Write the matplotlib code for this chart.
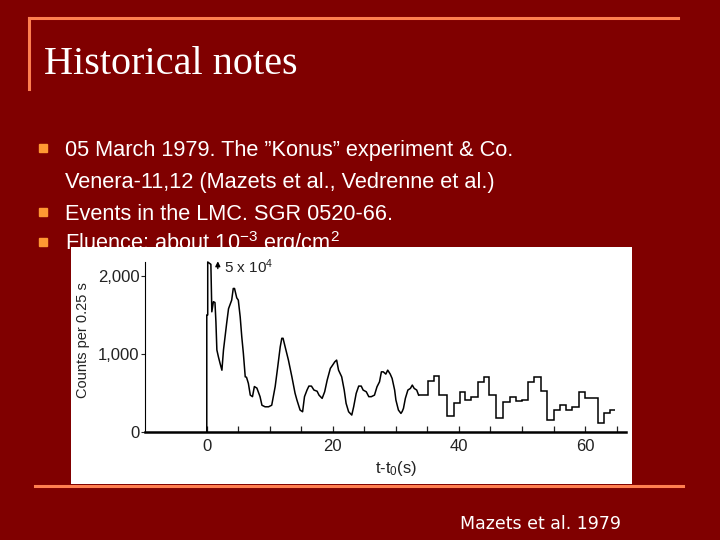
import matplotlib
matplotlib.use("Agg")
import matplotlib.pyplot as plt
from matplotlib.lines import Line2D
from matplotlib.patches import Rectangle
from matplotlib.ticker import FixedLocator

plt.rcParams["mathtext.fontset"] = "custom"
plt.rcParams["mathtext.rm"] = "Liberation Sans"
plt.rcParams["mathtext.it"] = "Liberation Sans"

# Konus light curve, 5 March 1979
# first part: fine time resolution
t_fine = [0, 0, 0.15, 0.15, 0.65, 0.8, 1.05, 1.3, 1.45, 1.6, 1.85, 2.1, 2.4, 2.65,
          3.15, 3.45, 3.95, 4.2, 4.4, 4.75, 5.0, 5.3, 5.55, 5.8, 6.1, 6.3, 6.6, 6.9,
          7.25, 7.55, 7.95, 8.45, 8.75, 9.25, 9.8, 10.3, 10.85, 11.25, 11.65, 11.9,
          12.1, 12.4, 12.95, 13.5, 14.0, 14.3, 14.8, 15.2, 15.5, 15.9, 16.2, 16.6,
          17.0, 17.5, 17.8, 18.3, 18.7, 19.1, 19.6, 20.0, 20.3, 20.6, 20.9, 21.4,
          21.8, 22.1, 22.5, 23.0, 23.3, 23.7, 24.1, 24.5, 24.8, 25.3, 25.7, 26.1,
          26.6, 27.0, 27.4, 27.7, 28.0, 28.4, 28.7, 29.1, 29.4, 29.8, 30.0, 30.4,
          30.8, 31.0, 31.2, 31.5, 31.9, 32.3, 32.6, 32.9, 33.3, 33.6]
counts_fine = [0, 1500, 1500, 2180, 2150, 1540, 1670, 1660, 1410, 1050, 960, 880, 790,
               1050, 1390, 1580, 1690, 1840, 1840, 1720, 1690, 1475, 1220, 1010, 705,
               700, 620, 470, 450, 580, 560, 450, 340, 320, 320, 340, 580, 830, 1090,
               1200, 1200, 1100, 920, 705, 495, 407, 278, 256, 450, 535, 586, 586, 535,
               520, 470, 428, 513, 663, 813, 860, 897, 920, 791, 705, 535, 364, 256,
               214, 320, 492, 586, 586, 535, 513, 450, 450, 470, 577, 641, 769, 769,
               740, 791, 740, 684, 535, 407, 278, 235, 260, 300, 428, 535, 556, 599,
               556, 535, 470]

# second part: coarse bins (step histogram)
step_edges = [33.6, 35.1, 36.0, 36.9, 38.1, 39.2, 40.1, 41.0, 41.9, 43.0, 43.9, 44.8,
              45.9, 47.0, 48.1, 49.0, 50.0, 51.0, 51.9, 53.0, 54.0, 55.1, 56.0, 57.0,
              58.0, 59.0, 60.0, 62.0, 63.0, 63.9, 64.8]
step_counts = [470, 654, 714, 470, 200, 372, 513, 406, 450, 641, 705, 470, 171, 377,
               450, 390, 407, 633, 705, 522, 150, 278, 342, 278, 321, 513, 436, 107,
               235, 278]

bullets = [
    "05 March 1979. The \u201dKonus\u201d experiment & Co.",
    "Events in the LMC. SGR 0520-66.",
    "Fluence: about 10$^{\\mathrm{-3}}$ erg/cm$^{\\mathrm{2}}$",
]
bullet_cont = "Venera-11,12 (Mazets et al., Vedrenne et al.)"

W, H = 720, 540
BG = "#800000"
LINE_C = "#FF7F50"
BULLET_C = "#FF9933"


def fx(x):
    return x / W


def fy(y):
    return 1 - y / H


fig = plt.figure(figsize=(7.2, 5.4), dpi=100, facecolor=BG)

# slide frame lines
fig.add_artist(Line2D([fx(29), fx(678)], [fy(18), fy(18)], color=LINE_C, lw=2.2,
                      transform=fig.transFigure))
fig.add_artist(Line2D([fx(29), fx(29)], [fy(18), fy(89)], color=LINE_C, lw=2.2,
                      transform=fig.transFigure))
fig.add_artist(Line2D([fx(35), fx(683)], [fy(486), fy(486)], color=LINE_C, lw=2.2,
                      transform=fig.transFigure, zorder=7))

fig.text(fx(44), fy(74), "Historical notes", color="white", fontsize=29,
         family="Liberation Serif", va="baseline", ha="left")

# bullets
bullet_y = [148, 212, 242]
for yy, txt in zip(bullet_y, bullets):
    fig.add_artist(Rectangle((fx(39), fy(yy + 4)), 8 / W, 8 / H, color=BULLET_C,
                             transform=fig.transFigure))
    fig.text(fx(65), fy(yy + 8), txt, color="white", fontsize=15.7,
             family="Liberation Sans", va="baseline", ha="left")
fig.text(fx(65), fy(180 + 8), bullet_cont, color="white", fontsize=15.7,
         family="Liberation Sans", va="baseline", ha="left")

# embedded figure background
fig.add_artist(Rectangle((fx(71), fy(484)), (632 - 71) / W, (484 - 247) / H,
                         facecolor="white", edgecolor="none",
                         transform=fig.transFigure, zorder=5))

ax = fig.add_axes([fx(145), fy(431.7), (626 - 145) / W, (431.7 - 262) / H])
ax.set_zorder(6)
ax.patch.set_alpha(0)

ax.plot(t_fine, counts_fine, color="black", lw=1.1, clip_on=False)
ax.stairs(step_counts, step_edges, baseline=None, color="black", lw=1.1)

ax.set_xlim(-9.8, 66.5)
ax.set_ylim(0, 2180)

for side in ["top", "right"]:
    ax.spines[side].set_visible(False)
ax.spines["bottom"].set_linewidth(1.8)
ax.spines["left"].set_linewidth(0.8)

ax.xaxis.set_major_locator(FixedLocator([0, 20, 40, 60]))
ax.xaxis.set_minor_locator(FixedLocator([5, 10, 15, 25, 30, 35, 45, 50, 55, 65]))
ax.set_yticks([0, 1000, 2000])
ax.set_yticklabels(["0", "1,000", "2,000"])
ax.tick_params(axis="x", which="both", direction="in", length=4, width=0.9,
               labelsize=12, pad=5, colors="#222222")
ax.tick_params(axis="y", direction="out", length=3, width=0.8, labelsize=12,
               pad=1, colors="#222222")
for lab in ax.get_xticklabels() + ax.get_yticklabels():
    lab.set_family("Liberation Sans")

ax.text(2.75, 2118, "5 x 10$^{4}$", fontsize=11, color="#222222", va="center",
        ha="left", family="Liberation Sans", clip_on=False)
ax.annotate("", xy=(1.75, 2225), xytext=(1.75, 2060),
            arrowprops=dict(arrowstyle="-|>", lw=1, color="black",
                            mutation_scale=7), annotation_clip=False)

fig.text(fx(83), fy(340), "Counts per 0.25 s", rotation=90, fontsize=10.5,
         family="Liberation Sans", color="#222222", ha="center", va="center",
         zorder=8)
fig.text(fx(396), fy(469), "t-t$_{\\mathrm{0}}$(s)", fontsize=12,
         family="Liberation Sans", color="#222222", ha="center", va="center",
         zorder=8)

fig.text(fx(540), fy(524), "Mazets et al. 1979", color="white", fontsize=12.5,
         family="DejaVu Sans", ha="center", va="center")

fig.savefig("out.png", dpi=100, facecolor=BG)
